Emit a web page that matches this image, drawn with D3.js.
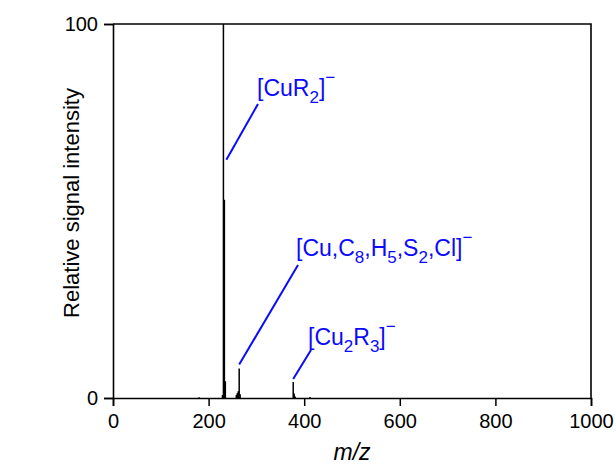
<!DOCTYPE html>
<html><head><meta charset="utf-8">
<script src="https://cdn.jsdelivr.net/npm/d3@7"></script>
<style>
html,body{margin:0;padding:0;background:#fff;}
svg text{font-family:Arial,"Liberation Sans",sans-serif;}
</style></head>
<body><svg id="c" width="616" height="464"></svg>
<script>
// Data
const mz = [180, 229, 231, 233, 234, 235, 258, 260, 262, 264, 266, 377, 379, 381, 412];
const intensity = [0.2, 0.8, 100, 53, 1.0, 4.5, 0.8, 1.3, 1.8, 7.9, 1.0, 4.3, 1.2, 0.4, 0.3];
const xTicks = [0, 200, 400, 600, 800, 1000];
const xMinor = d3.range(0, 1001, 50);
const yTicks = [0, 100];
const xLabel = "m/z";
const yLabel = "Relative signal intensity";
// annotation anchors (peak m/z & intensity)
const annMz = [233, 264, 377];
const annY = [53, 7.9, 4.3];

const svg = d3.select("#c");
const L = 113, R = 591, T = 24, B = 398;
const x = d3.scaleLinear().domain([0, 1000]).range([L, R]);
const y = d3.scaleLinear().domain([0, 100]).range([B, T]);

// peaks
svg.append("g").selectAll("line").data(mz).join("line")
  .attr("x1", d => x(d)).attr("x2", d => x(d))
  .attr("y1", y(0)).attr("y2", (d, i) => y(intensity[i]))
  .attr("stroke", "#000").attr("stroke-width", 1.5);

// frame
svg.append("path")
  .attr("d", `M${L},${T}H${R}V${B}`)
  .attr("fill", "none").attr("stroke", "#000").attr("stroke-width", 1.6);

// x axis
const gx = svg.append("g").attr("transform", `translate(0,${B})`);
gx.call(d3.axisBottom(x).tickValues(xMinor).tickSize(4).tickFormat(""));
gx.call(d3.axisBottom(x).tickValues(xTicks).tickSize(8).tickPadding(8).tickFormat(d3.format("d")));
gx.selectAll(".domain").attr("stroke-width", 1.6);
gx.selectAll(".tick line").attr("stroke-width", 1.5);
gx.selectAll("text").attr("font-size", 20).attr("fill", "#000")
  .attr("font-family", "Arial, 'Liberation Sans', sans-serif");

// y axis
const gy = svg.append("g").attr("transform", `translate(${L},0)`);
gy.call(d3.axisLeft(y).tickValues(yTicks).tickSize(9).tickPadding(6).tickFormat(d3.format("d")));
gy.selectAll(".domain").attr("stroke-width", 1.6);
gy.selectAll(".tick line").attr("stroke-width", 1.5);
gy.selectAll("text").attr("font-size", 20).attr("fill", "#000")
  .attr("font-family", "Arial, 'Liberation Sans', sans-serif");

// axis titles
svg.append("text").attr("x", (L + R) / 2).attr("y", 460).attr("text-anchor", "middle")
  .attr("font-size", 23).attr("font-style", "italic").text(xLabel);
svg.append("text").attr("transform", `translate(79,203) rotate(-90)`)
  .attr("text-anchor", "middle").attr("font-size", 22).text(yLabel);

// annotations
const blue = "#0a0aff";
const labels = [
  {parts: [["[CuR", 0], ["2", 1], ["]", 0], ["\u2212", 2]], tx: 257, ty: 96, lx: 258, ly: 104, dx: 2, dy: 40},
  {parts: [["[Cu,C", 0], ["8", 1], [",H", 0], ["5", 1], [",S", 0], ["2", 1], [",Cl]", 0], ["\u2212", 2]], tx: 296, ty: 256, lx: 298, ly: 265, dx: 0, dy: 4},
  {parts: [["[Cu", 0], ["2", 1], ["R", 0], ["3", 1], ["]", 0], ["\u2212", 2]], tx: 308, ty: 345, lx: 311, ly: 350, dx: 0, dy: 3}
];
labels.forEach((lab, i) => {
  const t = svg.append("text").attr("x", lab.tx).attr("y", lab.ty)
    .attr("font-size", 23).attr("fill", blue);
  lab.parts.forEach(([s, k], j) => {
    const prev = j > 0 ? lab.parts[j - 1][1] : 0;
    let dy = 0;
    if (k === 1 && prev !== 1) dy = 7;
    if (k === 0 && prev === 1) dy = -7;
    if (k === 2) dy = (prev === 1 ? -7 : 0) - 13;
    const ts = t.append("tspan").text(s).attr("dy", dy);
    if (k === 1) ts.attr("font-size", 17);
    if (k === 2) ts.attr("font-size", 17);
  });
  svg.append("line")
    .attr("x1", lab.lx).attr("y1", lab.ly)
    .attr("x2", x(annMz[i]) + lab.dx).attr("y2", y(annY[i]) - lab.dy)
    .attr("stroke", blue).attr("stroke-width", 2);
});
</script></body></html>
